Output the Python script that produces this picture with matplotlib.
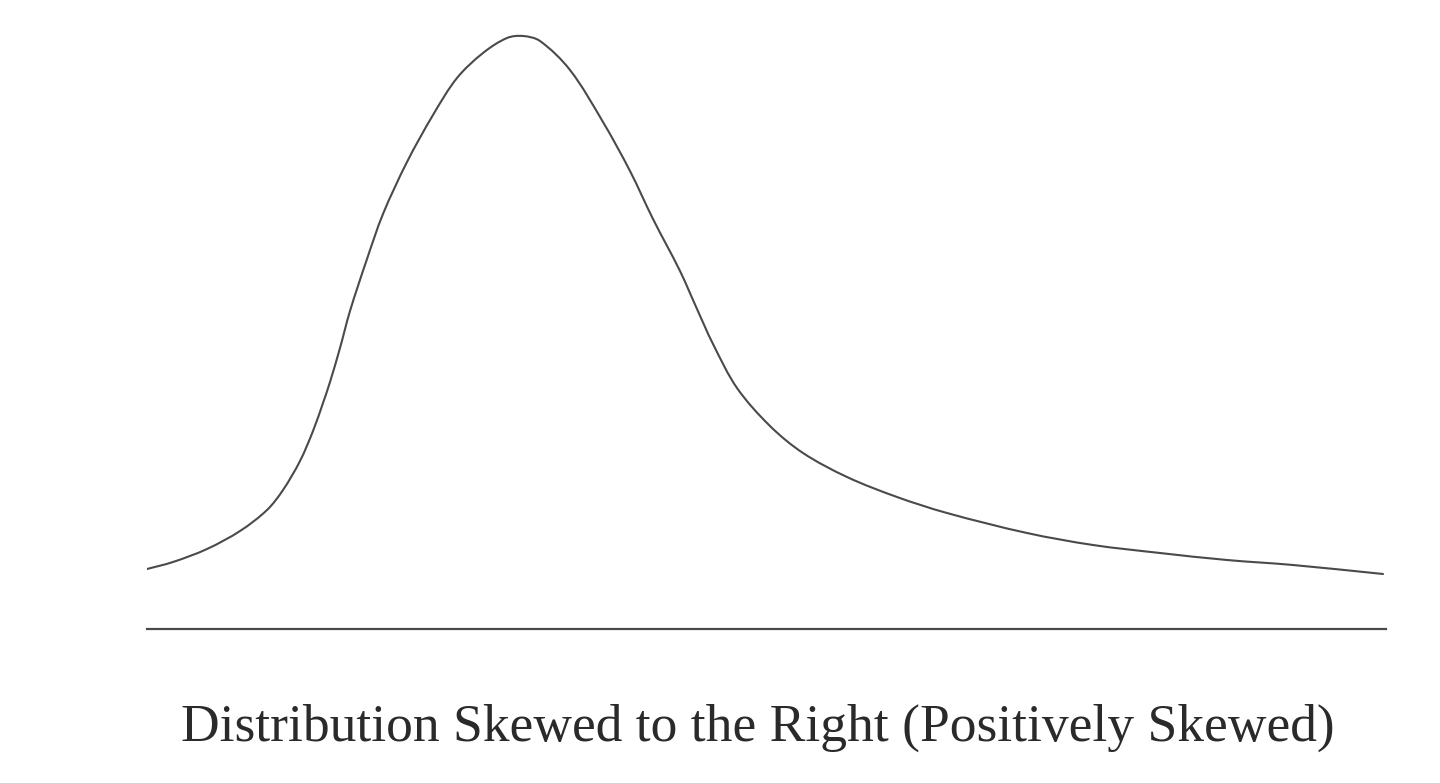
import matplotlib
matplotlib.use("Agg")
import matplotlib.pyplot as plt
from matplotlib.path import Path
from matplotlib.patches import PathPatch

# puntos (posicion horizontal, altura sobre la linea base)
posiciones = [0, 26, 60, 93, 120, 136, 153, 166, 176, 183, 193, 203, 220, 236,
              260, 286, 310, 336, 360, 376, 393, 423, 456, 483, 506, 533, 550,
              566, 590, 623, 656, 700, 750, 800, 880, 946, 1013, 1080, 1146, 1236]
alturas = [60, 67, 80, 98, 119, 139, 168, 198, 226, 247, 281, 318, 370, 415,
           467, 514, 551, 576, 591, 593, 588, 559, 507, 458, 410, 358, 320,
           285, 241, 203, 176, 152, 132, 116, 96, 84, 76, 69, 64, 55]

titulo = "Distribution Skewed to the Right (Positively Skewed)"
largo_base = 1239


def trazo_suave(xs, ys):
    # curva de Bezier que pasa por los puntos (tangentes segun largo de cuerda)
    n = len(xs)
    t = [0.0]
    for i in range(1, n):
        t.append(t[-1] + ((xs[i] - xs[i - 1]) ** 2 + (ys[i] - ys[i - 1]) ** 2) ** 0.5)
    mx, my = [], []
    for i in range(n):
        a, b = max(i - 1, 0), min(i + 1, n - 1)
        mx.append((xs[b] - xs[a]) / (t[b] - t[a]))
        my.append((ys[b] - ys[a]) / (t[b] - t[a]))
    verts = [(xs[0], ys[0])]
    codes = [Path.MOVETO]
    for i in range(n - 1):
        h = (t[i + 1] - t[i]) / 3
        verts += [(xs[i] + mx[i] * h, ys[i] + my[i] * h),
                  (xs[i + 1] - mx[i + 1] * h, ys[i + 1] - my[i + 1] * h),
                  (xs[i + 1], ys[i + 1])]
        codes += [Path.CURVE4] * 3
    return Path(verts, codes)


fig = plt.figure(figsize=(14.4, 7.83), dpi=100)
ax = fig.add_axes([147 / 1440, (783 - 629) / 783, largo_base / 1440, 609 / 783])
ax.set_xlim(0, largo_base)
ax.set_ylim(0, 609)
ax.axis("off")

ax.add_patch(PathPatch(trazo_suave(posiciones, alturas), fill=False,
                       edgecolor="#4a4a4a", lw=1.5, capstyle="round"))
ax.axhline(0, color="#4a4a4a", lw=1.6, clip_on=False)

fig.text(758 / 1440, 1 - 728 / 783, titulo, ha="center", va="center",
         fontsize=38.5, family="Liberation Serif", color="#2a2a2a")

fig.savefig("out.png", dpi=100, facecolor="white")
